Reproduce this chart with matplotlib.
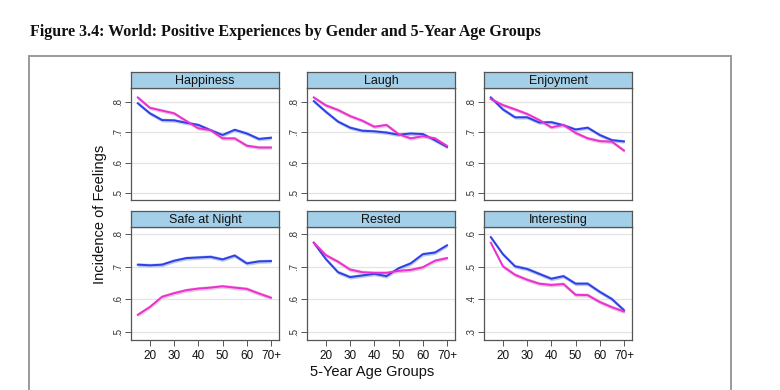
import matplotlib
matplotlib.use("Agg")
import matplotlib.pyplot as plt
from matplotlib.patches import Rectangle
import numpy as np

# ---------------- data ----------------
ages = [15, 20, 25, 30, 35, 40, 45, 50, 55, 60, 65, 70]
xtick_vals = [20, 30, 40, 50, 60, 70]
xtick_labels = ["20", "30", "40", "50", "60", "70+"]

panels = ["Happiness", "Laugh", "Enjoyment", "Safe at Night", "Rested", "Interesting"]

male = {
    "Happiness":     [0.795, 0.762, 0.740, 0.739, 0.731, 0.724, 0.707, 0.691, 0.708, 0.696, 0.678, 0.682],
    "Laugh":         [0.802, 0.767, 0.735, 0.715, 0.705, 0.703, 0.699, 0.692, 0.696, 0.694, 0.674, 0.652],
    "Enjoyment":     [0.814, 0.775, 0.749, 0.749, 0.732, 0.733, 0.723, 0.709, 0.715, 0.691, 0.674, 0.670],
    "Safe at Night": [0.706, 0.704, 0.706, 0.718, 0.726, 0.728, 0.730, 0.722, 0.734, 0.710, 0.716, 0.717],
    "Rested":        [0.773, 0.723, 0.683, 0.668, 0.673, 0.678, 0.671, 0.695, 0.710, 0.738, 0.743, 0.765],
    "Interesting":   [0.590, 0.538, 0.501, 0.493, 0.478, 0.463, 0.471, 0.448, 0.448, 0.423, 0.401, 0.367],
}
female = {
    "Happiness":     [0.814, 0.780, 0.771, 0.762, 0.737, 0.713, 0.707, 0.680, 0.680, 0.656, 0.650, 0.650],
    "Laugh":         [0.814, 0.788, 0.773, 0.753, 0.738, 0.718, 0.724, 0.694, 0.680, 0.687, 0.680, 0.655],
    "Enjoyment":     [0.809, 0.789, 0.775, 0.760, 0.740, 0.716, 0.724, 0.698, 0.680, 0.671, 0.669, 0.640],
    "Safe at Night": [0.553, 0.577, 0.608, 0.619, 0.628, 0.633, 0.636, 0.640, 0.636, 0.632, 0.618, 0.605],
    "Rested":        [0.773, 0.735, 0.715, 0.691, 0.683, 0.681, 0.681, 0.687, 0.690, 0.698, 0.718, 0.726],
    "Interesting":   [0.573, 0.501, 0.475, 0.460, 0.448, 0.444, 0.447, 0.414, 0.413, 0.392, 0.376, 0.363],
}
ci_half = 0.006

yticks = {
    "Happiness": [0.5, 0.6, 0.7, 0.8], "Laugh": [0.5, 0.6, 0.7, 0.8],
    "Enjoyment": [0.5, 0.6, 0.7, 0.8], "Safe at Night": [0.5, 0.6, 0.7, 0.8],
    "Rested": [0.5, 0.6, 0.7, 0.8], "Interesting": [0.3, 0.4, 0.5, 0.6],
}

title = "Figure 3.4: World: Positive Experiences by Gender and 5-Year Age Groups"
ylabel = "Incidence of Feelings"
xlabel = "5-Year Age Groups"

# ---------------- style ----------------
W, H = 780, 390
fig = plt.figure(figsize=(W / 100, H / 100), dpi=100)
plt.rcParams["font.family"] = ["Liberation Sans", "DejaVu Sans"]

blue = "#2f3fe6"
mag = "#ee2fcf"
blue_band = "#b9c8f2"
mag_band = "#e6c6dc"
strip_col = "#a3cfe9"
frame_col = "#555555"

def fx(px):
    return px / W

def fy(py):
    return 1 - py / H

lefts = [131, 307, 484]
width_px = 148
rows = [(88, 200, 72), (227, 340, 211)]  # (plot top, plot bottom, strip top)
ylims = [(0.478, 0.845), (0.476, 0.821)]

for i, name in enumerate(panels):
    r, c = divmod(i, 3)
    top, bot, stop = rows[r]
    l = lefts[c]
    ax = fig.add_axes([fx(l), fy(bot), width_px / W, (bot - top) / H])
    # strip
    sax = fig.add_axes([fx(l), fy(top), width_px / W, (top - stop) / H])
    sax.set_facecolor(strip_col)
    sax.set_xticks([]); sax.set_yticks([])
    for s in sax.spines.values():
        s.set_color(frame_col); s.set_linewidth(0.9)
    sax.text(0.5, 0.45, name, ha="center", va="center", fontsize=9,
             transform=sax.transAxes, color="#111111")

    m = np.array(male[name]); f = np.array(female[name])
    ax.fill_between(ages, m - ci_half, m + ci_half, color=blue_band, lw=0, zorder=2)
    ax.fill_between(ages, f - ci_half, f + ci_half, color=mag_band, lw=0, zorder=2)
    ax.plot(ages, m, color=blue, lw=1.4, zorder=3)
    ax.plot(ages, f, color=mag, lw=1.4, zorder=3)

    lo, hi = ylims[r]
    if name == "Interesting":
        lo, hi = lo - 0.2, hi - 0.2
    ax.set_ylim(lo, hi)
    ax.set_xlim(12.2, 73.3)
    yt = yticks[name]
    ax.set_yticks(yt)
    ax.set_yticklabels([("%.1f" % v).lstrip("0") for v in yt], rotation=90,
                       va="center", fontsize=7, color="#333333")
    ax.grid(axis="y", color="#e4e4e4", lw=0.9, zorder=1)
    ax.set_axisbelow(True)
    ax.tick_params(axis="y", length=4, width=0.7, color="#555555", pad=2)
    if r == 1:
        ax.set_xticks(xtick_vals)
        ax.set_xticklabels(xtick_labels, fontsize=8.5, color="#111111")
        ax.tick_params(axis="x", length=4, width=0.7, color="#555555", pad=3)
    else:
        ax.set_xticks([])
    for s in ax.spines.values():
        s.set_color(frame_col); s.set_linewidth(0.9)

# labels
fig.text(fx(100), fy(214), ylabel, rotation=90, ha="center", va="center", fontsize=10.5, color="#111111")
fig.text(fx(372), fy(372), xlabel, ha="center", va="center", fontsize=10.5, color="#111111")

# title
fig.text(fx(30), fy(32), title, ha="left", va="center", fontsize=11.5,
         family=["Liberation Serif", "DejaVu Serif"], fontweight="bold", color="#111111")

# outer frame
fig.patches.append(Rectangle((fx(29), fy(400)), fx(731) - fx(29), fy(56) - fy(400),
                             transform=fig.transFigure, fill=False, edgecolor="#9a9a9a",
                             lw=1.4, clip_on=False))

fig.savefig("out.png", dpi=100)
